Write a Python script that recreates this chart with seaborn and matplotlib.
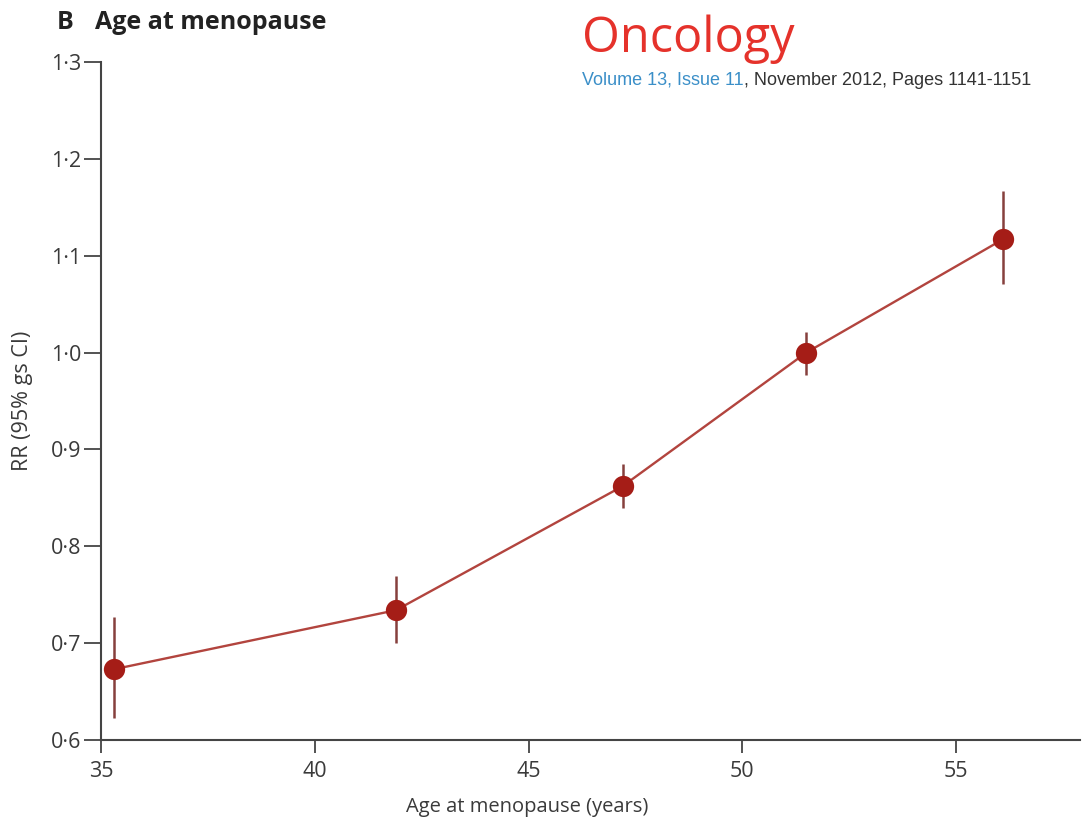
import matplotlib
matplotlib.use("Agg")
import matplotlib.pyplot as plt
import seaborn as sns
import pandas as pd

# Relative risk by age at menopause, with 95% group-specific CIs
age = [35.3, 41.9, 47.2, 51.5, 56.1]
rr = [0.673, 0.734, 0.862, 1.000, 1.117]
ci_low = [0.623, 0.700, 0.839, 0.977, 1.071]
ci_high = [0.727, 0.769, 0.885, 1.021, 1.167]

y_ticks = [0.6, 0.7, 0.8, 0.9, 1.0, 1.1, 1.2, 1.3]
x_ticks = [35, 40, 45, 50, 55]

df = pd.DataFrame({"age": age, "rr": rr, "lo": ci_low, "hi": ci_high})

sns.set_theme(style="ticks")
plt.rcParams["font.family"] = ["Open Sans", "DejaVu Sans"]

fig = plt.figure(figsize=(10.84, 8.18), dpi=100)
ax = fig.add_axes([0.0932, 0.0954, 0.9031, 0.8288])

line_col = "#b2443e"
dot_col = "#a51d17"
err_col = "#86403d"
text_col = "#3a3a3a"

ax.vlines(df["age"], df["lo"], df["hi"], color=err_col, lw=1.8, zorder=2)
sns.lineplot(data=df, x="age", y="rr", ax=ax, color=line_col, lw=1.7, zorder=3)
sns.scatterplot(data=df, x="age", y="rr", ax=ax, color=dot_col, s=235,
                edgecolor=dot_col, linewidth=0, zorder=4)

ax.set_xlim(35, 57.9)
ax.set_ylim(0.6, 1.3)
ax.set_xticks(x_ticks)
ax.set_xticklabels([str(t) for t in x_ticks], fontsize=15.5, color=text_col)
ax.set_yticks(y_ticks)
ax.set_yticklabels([f"{t:.1f}".replace(".", "\u00b7") for t in y_ticks],
                   fontsize=15.5, color=text_col)
ax.tick_params(axis="y", length=12, width=1.3, color="#444444", pad=2)
ax.tick_params(axis="x", length=9, width=1.3, color="#444444", pad=6)
for s in ["top", "right"]:
    ax.spines[s].set_visible(False)
for s in ["left", "bottom"]:
    ax.spines[s].set_color("#444444")
    ax.spines[s].set_linewidth(1.5)

ax.set_xlabel("Age at menopause (years)", fontsize=14.5, color=text_col)
ax.set_ylabel("RR (95% gs CI)", fontsize=15.5, color=text_col)
ax.xaxis.set_label_coords(0.435, -0.084)
ax.yaxis.set_label_coords(-0.070, 0.5)

fig.text(0.052, 0.973, "B", fontsize=18, fontweight="bold", color="#222222", va="center")
fig.text(0.088, 0.973, "Age at menopause", fontsize=18, fontweight="bold",
         color="#222222", va="center")

fig.text(0.537, 0.952, "Oncology", fontsize=35, color="#e5322b",
         family=["Open Sans", "DejaVu Sans"], va="center")
t1 = fig.text(0.537, 0.902, "Volume 13, Issue 11", fontsize=13, color="#3b8fc8",
              family=["Liberation Sans", "DejaVu Sans"], va="center")
fig.canvas.draw()
bb = t1.get_window_extent()
fig.text(bb.x1 / fig.bbox.width, 0.902, ", November 2012, Pages 1141-1151",
         fontsize=13, color="#333333", family=["Liberation Sans", "DejaVu Sans"],
         va="center")

fig.savefig("out.png", dpi=100)
